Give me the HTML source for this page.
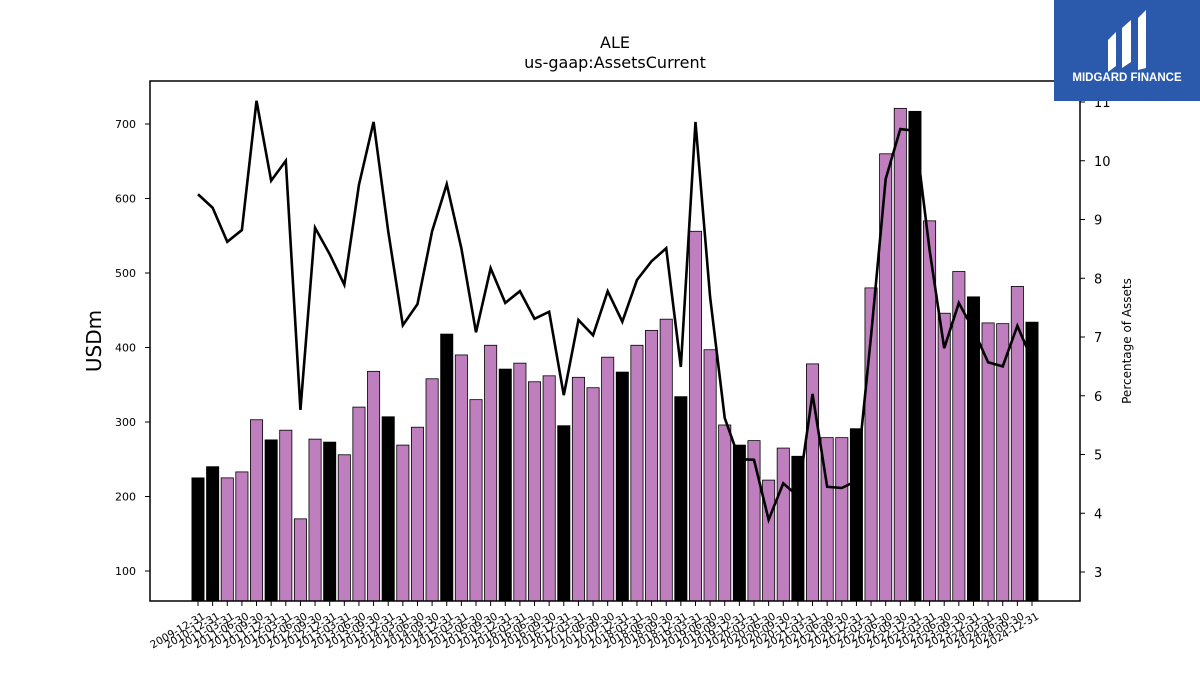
<!DOCTYPE html>
<html><head><meta charset="utf-8"><style>
body{margin:0;background:#fff;width:1200px;height:675px;overflow:hidden;font-family:"Liberation Sans","DejaVu Sans",sans-serif}
</style></head><body>
<svg id="chart" width="1200" height="675" xmlns="http://www.w3.org/2000/svg" font-family="DejaVu Sans, Liberation Sans, sans-serif">
<text x="615" y="48" text-anchor="middle" font-size="16">ALE</text>
<text x="615" y="68" text-anchor="middle" font-size="16">us-gaap:AssetsCurrent</text>
<g id="bars"></g><g id="line"></g><g id="axes"></g>
<rect x="150" y="81" width="930" height="520" fill="none" stroke="#000" stroke-width="1.5"/>
<text transform="translate(101,341) rotate(-90)" text-anchor="middle" font-size="20">USDm</text>
<text transform="translate(1131,341) rotate(-90)" text-anchor="middle" font-size="12">Percentage of Assets</text>
<g>
<rect x="1054" y="0" width="146" height="101" fill="#2b5aac"/>
<path d="M1108 40 L1116 32 L1116 66 L1108 72 Z M1122 28 L1131 20 L1131 62 L1122 68 Z M1138 18 L1146 10 L1146 68 L1138 70 Z" fill="#fff"/>
<text x="1127" y="81" text-anchor="middle" font-size="11.5" font-weight="bold" fill="#fff" font-family="Liberation Sans, sans-serif">MIDGARD FINANCE</text>
</g>
</svg>
<script>
const dates=["2009-12-31","2010-12-31","2011-03-31","2011-06-30","2011-09-30","2011-12-31","2012-03-31","2012-06-30","2012-09-30","2012-12-31","2013-03-31","2013-06-30","2013-09-30","2013-12-31","2014-03-31","2014-06-30","2014-09-30","2014-12-31","2015-03-31","2015-06-30","2015-09-30","2015-12-31","2016-03-31","2016-06-30","2016-09-30","2016-12-31","2017-03-31","2017-06-30","2017-09-30","2017-12-31","2018-03-31","2018-06-30","2018-09-30","2018-12-31","2019-03-31","2019-06-30","2019-09-30","2019-12-31","2020-03-31","2020-06-30","2020-09-30","2020-12-31","2021-03-31","2021-06-30","2021-09-30","2021-12-31","2022-03-31","2022-06-30","2022-09-30","2022-12-31","2023-03-31","2023-06-30","2023-09-30","2023-12-31","2024-03-31","2024-06-30","2024-09-30","2024-12-31"];
const assetsCurrent=[225,240,225,233,303,276,289,170,277,273,256,320,368,307,269,293,358,418,390,330,403,371,379,354,362,295,360,346,387,367,403,423,438,334,556,397,296,269,275,222,265,254,378,279,279,291,480,660,721,717,570,446,502,468,433,432,482,434];
const pctAssets=[9.43,9.2,8.62,8.82,11.02,9.66,10.0,5.76,8.86,8.41,7.89,9.59,10.66,8.8,7.2,7.56,8.8,9.6,8.51,7.08,8.17,7.58,7.78,7.31,7.43,6.01,7.29,7.03,7.78,7.26,7.97,8.29,8.51,6.49,10.66,7.68,5.62,4.92,4.91,3.89,4.51,4.29,6.03,4.45,4.43,4.55,7.02,9.69,10.54,10.51,8.48,6.81,7.58,7.12,6.57,6.5,7.19,6.61];
const yTicks=[100,200,300,400,500,600,700];
const y2Ticks=[3,4,5,6,7,8,9,10,11];
const NS="http://www.w3.org/2000/svg";
const x=i=>198+i*(1032-198)/(dates.length-1);
const y=v=>645.5-v*0.745;
const y2=v=>572-(v-3)*58.75;
function mk(t,a,p){const e=document.createElementNS(NS,t);for(const k in a)e.setAttribute(k,a[k]);p.appendChild(e);return e;}
const bars=document.getElementById('bars'),line=document.getElementById('line'),axes=document.getElementById('axes');
const bw=12.2;
dates.forEach((d,i)=>{
 const top=y(assetsCurrent[i]);
 const r=mk('rect',{x:x(i)-bw/2,y:top,width:bw,height:601-top,fill:d.endsWith('12-31')?'#000':'#bf7fbf',stroke:'#000','stroke-width':0.8},bars);
 
 
 const t=mk('line',{x1:x(i),x2:x(i),y1:601,y2:606,stroke:'#000','stroke-width':1},axes);
 
 
 const l=mk('text',{transform:`translate(${x(i)+4},${612}) rotate(-30)`,'text-anchor':'end','font-size':10.5,'dominant-baseline':'hanging'},axes);
 l.textContent=d;
 
 
});
const pl=mk('polyline',{points:pctAssets.map((v,i)=>x(i)+','+y2(v)).join(' '),fill:'none',stroke:'#000','stroke-width':2.6},line);


yTicks.forEach(v=>{
 const t=mk('line',{x1:145,x2:150,y1:y(v),y2:y(v),stroke:'#000'},axes);
 
 
 const l=mk('text',{x:136,y:y(v)+4,'text-anchor':'end','font-size':11},axes);
 l.textContent=v;
 
 
});
y2Ticks.forEach(v=>{
 const t=mk('line',{x1:1080,x2:1085,y1:y2(v),y2:y2(v),stroke:'#000'},axes);
 
 
 const l=mk('text',{x:1094,y:y2(v)+5,'font-size':13},axes);
 l.textContent=v;
 
 
});
</script>
</body></html>
